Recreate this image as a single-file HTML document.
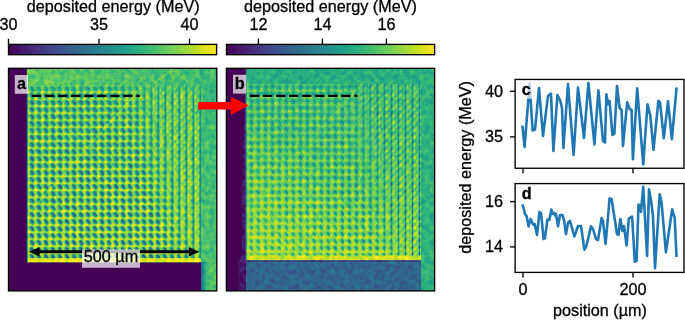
<!DOCTYPE html>
<html><head><meta charset="utf-8"><style>
html,body{margin:0;padding:0;background:#fff;width:685px;height:320px;overflow:hidden}
svg{display:block}
svg{will-change:transform}
text{font-family:"Liberation Sans",sans-serif;font-size:16.2px;fill:#000;stroke:#000;stroke-width:0.3px}
</style></head><body>
<svg width="685" height="320" viewBox="0 0 685 320">
<defs>
<linearGradient id="vir" x1="0" y1="0" x2="1" y2="0"><stop offset="0.0000" stop-color="#440154"/><stop offset="0.0625" stop-color="#48186a"/><stop offset="0.1250" stop-color="#472d7b"/><stop offset="0.1875" stop-color="#424086"/><stop offset="0.2500" stop-color="#3b528b"/><stop offset="0.3125" stop-color="#33638d"/><stop offset="0.3750" stop-color="#2c728e"/><stop offset="0.4375" stop-color="#26828e"/><stop offset="0.5000" stop-color="#21918c"/><stop offset="0.5625" stop-color="#1fa088"/><stop offset="0.6250" stop-color="#28ae80"/><stop offset="0.6875" stop-color="#3fbc73"/><stop offset="0.7500" stop-color="#5ec962"/><stop offset="0.8125" stop-color="#84d44b"/><stop offset="0.8750" stop-color="#addc30"/><stop offset="0.9375" stop-color="#d8e219"/><stop offset="1.0000" stop-color="#fde725"/></linearGradient>
<pattern id="dotsA" width="7" height="7" patternUnits="userSpaceOnUse" x="28.8" y="85">

<ellipse cx="0" cy="7" rx="2.0" ry="1.6" fill="#f2f2f2"/>
<ellipse cx="7" cy="7" rx="2.0" ry="1.6" fill="#f2f2f2"/>
<ellipse cx="0" cy="0" rx="2.0" ry="1.6" fill="#f2f2f2"/>
<ellipse cx="7" cy="0" rx="2.0" ry="1.6" fill="#f2f2f2"/>
<ellipse cx="6.6" cy="5.8" rx="1.4" ry="1.2" fill="#f2f2f2"/>

<ellipse cx="3.3" cy="3.8" rx="1.9" ry="3.0" transform="rotate(-35 3.3 3.8)" fill="#858585"/>
<ellipse cx="3.6" cy="3.4" rx="0.9" ry="2.1" transform="rotate(-35 3.6 3.4)" fill="#424242"/>
</pattern>
<linearGradient id="topA" gradientUnits="userSpaceOnUse" x1="28" y1="0" x2="216" y2="0"><stop offset="0" stop-color="#bfbfbf"/><stop offset="1" stop-color="#adadad"/></linearGradient>
<linearGradient id="rsA" gradientUnits="userSpaceOnUse" x1="0" y1="70" x2="0" y2="290"><stop offset="0" stop-color="#ababab"/><stop offset="1" stop-color="#b8b8b8"/></linearGradient>
<linearGradient id="brA" gradientUnits="userSpaceOnUse" x1="199" y1="0" x2="209" y2="0"><stop offset="0" stop-color="#4c4c4c"/><stop offset="0.2" stop-color="#595959"/><stop offset="0.8" stop-color="#b2b2b2"/><stop offset="1" stop-color="#b8b8b8"/></linearGradient>
<linearGradient id="bgA" gradientUnits="userSpaceOnUse" x1="0" y1="86" x2="0" y2="262"><stop offset="0" stop-color="#c2c2c2"/><stop offset="0.45" stop-color="#cccccc"/><stop offset="1" stop-color="#d9d9d9"/></linearGradient>
<linearGradient id="bgB" gradientUnits="userSpaceOnUse" x1="0" y1="86" x2="0" y2="258"><stop offset="0" stop-color="#adadad"/><stop offset="0.4" stop-color="#b8b8b8"/><stop offset="1" stop-color="#d1d1d1"/></linearGradient>
<pattern id="dotsB" width="7" height="7" patternUnits="userSpaceOnUse" x="248" y="83.5">

<ellipse cx="0" cy="7" rx="2.0" ry="1.6" fill="#e6e6e6"/>
<ellipse cx="7" cy="7" rx="2.0" ry="1.6" fill="#e6e6e6"/>
<ellipse cx="0" cy="0" rx="2.0" ry="1.6" fill="#e6e6e6"/>
<ellipse cx="7" cy="0" rx="2.0" ry="1.6" fill="#e6e6e6"/>
<ellipse cx="6.6" cy="5.8" rx="1.4" ry="1.2" fill="#e6e6e6"/>
<rect x="0" y="0" width="7" height="0.6" fill="#e0e0e0" fill-opacity="0.6"/><rect x="0" y="0" width="0.6" height="7" fill="#e0e0e0" fill-opacity="0.36"/>
<ellipse cx="3.3" cy="3.8" rx="1.6" ry="2.6" transform="rotate(-35 3.3 3.8)" fill="#8f8f8f"/>
<ellipse cx="3.6" cy="3.4" rx="0.7" ry="1.8" transform="rotate(-35 3.6 3.4)" fill="#616161"/>
</pattern>
<pattern id="strA" width="7" height="7" patternUnits="userSpaceOnUse" x="28.8" y="85">

<ellipse cx="5.6" cy="4.2" rx="1.5" ry="2.0" fill="#f5f5f5"/>
<ellipse cx="1.3" cy="1.6" rx="0.9" ry="1.2" fill="#f5f5f5"/>
<rect x="0" y="0" width="7" height="0.7" fill="#c2c2c2" fill-opacity="0.6"/>
<rect x="2.9" y="0" width="1.2" height="7" fill="#4c4c4c"/>
<ellipse cx="3.5" cy="3.8" rx="0.85" ry="2.4" fill="#3d3d3d"/>
</pattern>
<pattern id="strB" width="7" height="7" patternUnits="userSpaceOnUse" x="248" y="83.5">

<ellipse cx="5.6" cy="4.2" rx="1.5" ry="2.0" fill="#ebebeb"/>
<ellipse cx="1.3" cy="1.6" rx="0.9" ry="1.2" fill="#ebebeb"/>
<rect x="0" y="0" width="7" height="0.7" fill="#adadad" fill-opacity="0.6"/>
<rect x="3.0" y="0" width="1.0" height="7" fill="#808080"/>
<ellipse cx="3.5" cy="2.6" rx="0.85" ry="2.0" fill="#333333"/>
</pattern>
<linearGradient id="mDotsAg" gradientUnits="userSpaceOnUse" x1="118" y1="90" x2="156" y2="79"><stop offset="0" stop-color="#fff" stop-opacity="1"/><stop offset="1" stop-color="#fff" stop-opacity="0.12"/></linearGradient>
<mask id="mDotsA" maskUnits="userSpaceOnUse" x="0" y="0" width="685" height="320"><rect x="0" y="0" width="685" height="320" fill="url(#mDotsAg)"/></mask>
<linearGradient id="mStrAg" gradientUnits="userSpaceOnUse" x1="118" y1="90" x2="156" y2="79"><stop offset="0" stop-color="#fff" stop-opacity="0"/><stop offset="1" stop-color="#fff" stop-opacity="0.75"/></linearGradient>
<mask id="mStrA" maskUnits="userSpaceOnUse" x="0" y="0" width="685" height="320"><rect x="0" y="0" width="685" height="320" fill="url(#mStrAg)"/></mask>
<linearGradient id="mDotsBg" gradientUnits="userSpaceOnUse" x1="338" y1="92" x2="372" y2="84"><stop offset="0" stop-color="#fff" stop-opacity="1"/><stop offset="1" stop-color="#fff" stop-opacity="0.15"/></linearGradient>
<mask id="mDotsB" maskUnits="userSpaceOnUse" x="0" y="0" width="685" height="320"><rect x="0" y="0" width="685" height="320" fill="url(#mDotsBg)"/></mask>
<linearGradient id="mStrBg" gradientUnits="userSpaceOnUse" x1="338" y1="92" x2="372" y2="84"><stop offset="0" stop-color="#fff" stop-opacity="0"/><stop offset="1" stop-color="#fff" stop-opacity="0.85"/></linearGradient>
<mask id="mStrB" maskUnits="userSpaceOnUse" x="0" y="0" width="685" height="320"><rect x="0" y="0" width="685" height="320" fill="url(#mStrBg)"/></mask>
<filter id="vmA" x="0" y="0" width="100%" height="100%" color-interpolation-filters="sRGB">
<feTurbulence type="fractalNoise" baseFrequency="0.2" numOctaves="2" seed="3" result="t"/>
<feColorMatrix in="t" type="matrix" values="1 0 0 0 0  1 0 0 0 0  1 0 0 0 0  0 0 0 0 1" result="n"/>
<feComposite in="SourceGraphic" in2="n" operator="arithmetic" k1="0" k2="1" k3="0.3" k4="-0.15" result="s0"/>
<feGaussianBlur in="s0" stdDeviation="0.6" result="s"/>
<feComponentTransfer in="s"><feFuncR type="table" tableValues="0.2670 0.2770 0.2823 0.2829 0.2788 0.2706 0.2590 0.2450 0.2297 0.2143 0.1994 0.1856 0.1727 0.1607 0.1490 0.1378 0.1276 0.1206 0.1206 0.1323 0.1579 0.1966 0.2461 0.3041 0.3692 0.4401 0.5160 0.5958 0.6785 0.7624 0.8456 0.9261 0.9932"/><feFuncG type="table" tableValues="0.0049 0.0503 0.0950 0.1359 0.1755 0.2141 0.2515 0.2877 0.3224 0.3556 0.3876 0.4186 0.4488 0.4785 0.5081 0.5375 0.5669 0.5964 0.6258 0.6550 0.6838 0.7118 0.7389 0.7647 0.7889 0.8111 0.8312 0.8487 0.8637 0.8764 0.8873 0.8973 0.9062"/><feFuncB type="table" tableValues="0.3294 0.3757 0.4173 0.4534 0.4834 0.5071 0.5247 0.5373 0.5457 0.5512 0.5546 0.5568 0.5579 0.5581 0.5573 0.5549 0.5506 0.5436 0.5335 0.5197 0.5017 0.4792 0.4520 0.4199 0.3829 0.3410 0.2943 0.2433 0.1895 0.1371 0.0997 0.1041 0.1439"/></feComponentTransfer>
</filter>
<filter id="vmB" x="0" y="0" width="100%" height="100%" color-interpolation-filters="sRGB">
<feTurbulence type="fractalNoise" baseFrequency="0.2" numOctaves="2" seed="7" result="t"/>
<feColorMatrix in="t" type="matrix" values="1 0 0 0 0  1 0 0 0 0  1 0 0 0 0  0 0 0 0 1" result="n"/>
<feComposite in="SourceGraphic" in2="n" operator="arithmetic" k1="0" k2="1" k3="0.3" k4="-0.15" result="s0"/>
<feGaussianBlur in="s0" stdDeviation="0.6" result="s"/>
<feComponentTransfer in="s"><feFuncR type="table" tableValues="0.2670 0.2770 0.2823 0.2829 0.2788 0.2706 0.2590 0.2450 0.2297 0.2143 0.1994 0.1856 0.1727 0.1607 0.1490 0.1378 0.1276 0.1206 0.1206 0.1323 0.1579 0.1966 0.2461 0.3041 0.3692 0.4401 0.5160 0.5958 0.6785 0.7624 0.8456 0.9261 0.9932"/><feFuncG type="table" tableValues="0.0049 0.0503 0.0950 0.1359 0.1755 0.2141 0.2515 0.2877 0.3224 0.3556 0.3876 0.4186 0.4488 0.4785 0.5081 0.5375 0.5669 0.5964 0.6258 0.6550 0.6838 0.7118 0.7389 0.7647 0.7889 0.8111 0.8312 0.8487 0.8637 0.8764 0.8873 0.8973 0.9062"/><feFuncB type="table" tableValues="0.3294 0.3757 0.4173 0.4534 0.4834 0.5071 0.5247 0.5373 0.5457 0.5512 0.5546 0.5568 0.5579 0.5581 0.5573 0.5549 0.5506 0.5436 0.5335 0.5197 0.5017 0.4792 0.4520 0.4199 0.3829 0.3410 0.2943 0.2433 0.1895 0.1371 0.0997 0.1041 0.1439"/></feComponentTransfer>
</filter>
<linearGradient id="ovA1" gradientUnits="userSpaceOnUse" x1="0" y1="85" x2="0" y2="230"><stop offset="0" stop-color="#b8b8b8" stop-opacity="0.2"/><stop offset="0.5" stop-color="#b8b8b8" stop-opacity="0.08"/><stop offset="1" stop-color="#b8b8b8" stop-opacity="0"/></linearGradient>
<linearGradient id="ovB1" gradientUnits="userSpaceOnUse" x1="0" y1="85" x2="0" y2="250"><stop offset="0" stop-color="#a6a6a6" stop-opacity="0.38"/><stop offset="0.6" stop-color="#a6a6a6" stop-opacity="0.15"/><stop offset="1" stop-color="#a6a6a6" stop-opacity="0"/></linearGradient>
<linearGradient id="ovB2" gradientUnits="userSpaceOnUse" x1="250" y1="258" x2="330" y2="170"><stop offset="0" stop-color="#ededed" stop-opacity="0.45"/><stop offset="1" stop-color="#ededed" stop-opacity="0"/></linearGradient>
<filter id="sb" x="-5%" y="-5%" width="110%" height="110%"><feGaussianBlur stdDeviation="0.5"/></filter>
<clipPath id="clipA"><rect x="8.5" y="68.3" width="208.3" height="222.6"/></clipPath>
<clipPath id="clipB"><rect x="226.4" y="68.3" width="208.2" height="222.6"/></clipPath>
</defs>
<rect x="8.5" y="44.4" width="208.1" height="10.3" fill="url(#vir)" stroke="#000" stroke-width="1.35"/>
<line x1="8.5" y1="38.7" x2="8.5" y2="44.4" stroke="#000" stroke-width="1.35"/>
<text x="8.5" y="30.3" text-anchor="middle">30</text>
<line x1="99" y1="38.7" x2="99" y2="44.4" stroke="#000" stroke-width="1.35"/>
<text x="99" y="30.3" text-anchor="middle">35</text>
<line x1="189.5" y1="38.7" x2="189.5" y2="44.4" stroke="#000" stroke-width="1.35"/>
<text x="189.5" y="30.3" text-anchor="middle">40</text>
<text x="113.2" y="12.3" text-anchor="middle">deposited energy (MeV)</text>
<rect x="226.5" y="44.4" width="208.10000000000002" height="10.3" fill="url(#vir)" stroke="#000" stroke-width="1.35"/>
<line x1="258.4" y1="38.7" x2="258.4" y2="44.4" stroke="#000" stroke-width="1.35"/>
<text x="258.4" y="30.3" text-anchor="middle">12</text>
<line x1="322.4" y1="38.7" x2="322.4" y2="44.4" stroke="#000" stroke-width="1.35"/>
<text x="322.4" y="30.3" text-anchor="middle">14</text>
<line x1="386.4" y1="38.7" x2="386.4" y2="44.4" stroke="#000" stroke-width="1.35"/>
<text x="386.4" y="30.3" text-anchor="middle">16</text>
<text x="330.5" y="12.3" text-anchor="middle">deposited energy (MeV)</text>
<g clip-path="url(#clipA)"><g filter="url(#vmA)">
<rect x="8.5" y="68.3" width="208.3" height="222.59999999999997" fill="url(#topA)"/>
<rect x="27" y="85" width="174" height="177.5" fill="url(#bgA)"/>
<rect x="27" y="85" width="174" height="177.5" fill="url(#dotsA)" mask="url(#mDotsA)"/>
<rect x="28.5" y="85" width="172.5" height="177.5" fill="url(#strA)" mask="url(#mStrA)"/>
<rect x="27" y="85" width="174" height="177.5" fill="url(#ovA1)"/>
<rect x="27" y="84" width="174" height="7" fill="#b2b2b2" fill-opacity="0.45"/>
<polyline points="152,85 172,69.5 188,82" fill="none" stroke="#d6d6d6" stroke-width="1.6" stroke-opacity="0.45"/>
<line x1="141" y1="88" x2="28" y2="214" stroke="#f2f2f2" stroke-width="1.8" stroke-opacity="0.45"/>
<rect x="27" y="258.3" width="174" height="4" fill="#f7f7f7"/>
<rect x="24" y="85" width="3.6" height="177.5" fill="#616161"/>
<rect x="201" y="68.3" width="15.800000000000011" height="222.59999999999997" fill="url(#rsA)"/>
<rect x="199" y="262" width="10" height="28.899999999999977" fill="url(#brA)"/>
</g>
<path d="M5.5,65.3 H26.8 V262.4 H201 V293.9 H5.5 Z" fill="#440154" filter="url(#sb)"/>
</g>
<rect x="8.5" y="68.3" width="208.3" height="222.59999999999997" fill="none" stroke="#000" stroke-width="1.35"/>
<g clip-path="url(#clipB)"><g filter="url(#vmB)">
<rect x="226.4" y="68.3" width="208.20000000000002" height="222.59999999999997" fill="#9e9e9e"/>
<rect x="246" y="84" width="175" height="176.5" fill="url(#bgB)"/>
<rect x="246" y="84" width="175" height="176.5" fill="url(#dotsB)" mask="url(#mDotsB)"/>
<rect x="246" y="84" width="175" height="176.5" fill="url(#strB)" mask="url(#mStrB)"/>
<rect x="246" y="84" width="175" height="176.5" fill="url(#ovB1)"/>
<rect x="246" y="84" width="175" height="176.5" fill="url(#ovB2)"/>
<polyline points="370,85 390,69.5 406,82" fill="none" stroke="#c2c2c2" stroke-width="1.4" stroke-opacity="0.22"/>
<line x1="358" y1="88" x2="246" y2="214" stroke="#cccccc" stroke-width="1.6" stroke-opacity="0.35"/>
<rect x="246" y="255.5" width="175" height="4.7" fill="#ededed"/>
<rect x="246" y="260.2" width="175" height="2" fill="#292929"/>
<rect x="246" y="262.2" width="175" height="28.69999999999999" fill="#525252"/>
<rect x="245.5" y="84" width="2" height="166" fill="#cccccc"/>
<polygon points="236,68 246,68 246,291 236,291" fill="#0f0f0f"/>
<polygon points="245.6,68 246.6,68 246.6,262 245.6,262" fill="#737373"/>
<rect x="421" y="68.3" width="13.600000000000023" height="222.59999999999997" fill="#a3a3a3"/>
</g>
<polygon points="226.4,68.3 245.5,68.3 245.2,100 242.6,150 242,255 238.5,262 238.5,290.9 226.4,290.9" fill="#440154"/>
</g>
<rect x="226.4" y="68.3" width="208.20000000000002" height="222.59999999999997" fill="none" stroke="#000" stroke-width="1.35"/>
<rect x="14.8" y="75" width="13.2" height="18.8" fill="#fff" fill-opacity="0.7"/>
<text x="21.4" y="89" text-anchor="middle" font-weight="bold">a</text>
<rect x="233" y="74.8" width="13.2" height="18.8" fill="#fff" fill-opacity="0.7"/>
<text x="239.6" y="89" text-anchor="middle" font-weight="bold">b</text>
<line x1="31.9" y1="95.9" x2="140" y2="95.9" stroke="#000" stroke-width="2.2" stroke-dasharray="9.3 3.75"/>
<line x1="249.9" y1="95.9" x2="357.4" y2="95.9" stroke="#000" stroke-width="2.2" stroke-dasharray="9.3 3.75"/>
<line x1="36" y1="251.8" x2="192" y2="251.8" stroke="#000" stroke-width="3"/>
<path d="M28.8,251.8 L39.5,247.2 L39.5,256.4 Z" fill="#000"/>
<path d="M199.5,251.8 L188.8,247.2 L188.8,256.4 Z" fill="#000"/>
<rect x="82" y="249.6" width="58" height="18.2" fill="#fff" fill-opacity="0.7"/>
<text x="111" y="262.4" text-anchor="middle">500 µm</text>
<path d="M198.1,101.9 L231,101.9 L231,96.9 L248.8,105.6 L231,115 L231,109.4 L198.1,109.4 Z" fill="#ff0000"/>
<rect x="515.1" y="79.45" width="168.9" height="88.8" fill="#fff"/>
<polyline points="522.4,125.5 524.6,147.0 529.6,83.5 532.6,130.4 535.0,129.6 539.0,88.0 543.0,136.0 548.0,96.0 551.0,93.6 553.4,151.0 557.4,95.0 560.0,100.0 562.0,108.0 563.4,148.0 568.0,84.0 573.6,155.0 578.0,87.6 584.0,138.0 588.4,83.0 594.4,144.4 598.4,90.4 603.0,141.0 605.0,142.4 606.4,94.4 608.0,104.0 609.6,101.0 612.4,135.0 614.4,133.6 617.0,86.0 619.6,108.0 621.6,110.0 623.0,146.0 627.2,102.4 629.7,109.0 631.6,110.0 632.9,159.1 637.2,88.3 643.2,164.4 647.5,104.3 650.3,115.5 653.5,149.8 658.4,100.9 660.0,102.4 663.8,138.1 668.0,101.4 671.9,139.1 676.6,87.4" fill="none" stroke="#1f77b4" stroke-width="2.6" stroke-linejoin="round"/>
<rect x="519.9" y="81" width="12.6" height="17.8" fill="#fff" fill-opacity="0.7"/>
<text x="526.2" y="95" text-anchor="middle" font-weight="bold">c</text>
<rect x="515.1" y="79.45" width="168.9" height="88.8" fill="none" stroke="#000" stroke-width="1.35"/>
<line x1="510" y1="91.25" x2="515" y2="91.25" stroke="#000" stroke-width="1.35"/>
<text x="503" y="96.75" text-anchor="end">40</text>
<line x1="510" y1="136.9" x2="515" y2="136.9" stroke="#000" stroke-width="1.35"/>
<text x="503" y="142.4" text-anchor="end">35</text>
<line x1="523" y1="168.25" x2="523" y2="173.2" stroke="#000" stroke-width="1.35"/>
<line x1="633" y1="168.25" x2="633" y2="173.2" stroke="#000" stroke-width="1.35"/>
<polyline points="522.4,204.4 524.0,210.0 525.0,214.0 526.6,216.0 528.6,226.4 530.6,219.0 532.0,222.0 533.4,225.0 534.6,224.0 537.0,235.0 539.4,212.0 541.0,213.0 543.6,239.0 545.0,238.0 547.4,219.6 549.4,220.0 551.4,209.6 553.0,214.0 554.4,213.0 555.6,216.0 556.0,214.0 558.0,226.4 560.0,215.0 562.4,215.0 564.0,220.0 566.0,234.0 568.0,223.0 570.0,221.0 572.0,228.0 574.4,236.4 578.0,226.0 581.0,226.0 584.4,249.6 586.4,246.0 591.0,226.4 593.0,229.0 596.0,239.0 598.0,240.0 601.6,218.0 603.0,221.0 605.6,244.0 609.6,198.4 611.6,199.0 617.0,234.0 618.4,235.0 620.4,219.0 622.4,231.0 624.0,226.0 626.6,245.5 628.8,218.7 632.1,216.5 634.8,261.7 636.6,260.8 638.5,204.6 640.0,205.6 641.0,212.0 643.2,186.8 647.1,256.0 649.0,189.2 651.2,201.8 653.0,216.0 655.0,268.2 659.7,194.3 661.6,202.8 665.9,252.3 672.2,209.3 674.7,217.8 676.5,257.0" fill="none" stroke="#1f77b4" stroke-width="2.6" stroke-linejoin="round"/>
<text x="526.6" y="198.8" text-anchor="middle" font-weight="bold">d</text>
<rect x="515.1" y="183.6" width="168.9" height="88.8" fill="none" stroke="#000" stroke-width="1.35"/>
<line x1="510" y1="201.6" x2="515" y2="201.6" stroke="#000" stroke-width="1.35"/>
<text x="503" y="207.1" text-anchor="end">16</text>
<line x1="510" y1="246.9" x2="515" y2="246.9" stroke="#000" stroke-width="1.35"/>
<text x="503" y="252.4" text-anchor="end">14</text>
<line x1="523" y1="272.4" x2="523" y2="277.6" stroke="#000" stroke-width="1.35"/>
<text x="523" y="295.3" text-anchor="middle">0</text>
<line x1="633" y1="272.4" x2="633" y2="277.6" stroke="#000" stroke-width="1.35"/>
<text x="633" y="295.3" text-anchor="middle">200</text>
<text x="600" y="315.5" text-anchor="middle">position (µm)</text>
<text transform="translate(470.5,167.4) rotate(-90)" x="0" y="0" text-anchor="middle">deposited energy (MeV)</text>
</svg>
</body></html>
